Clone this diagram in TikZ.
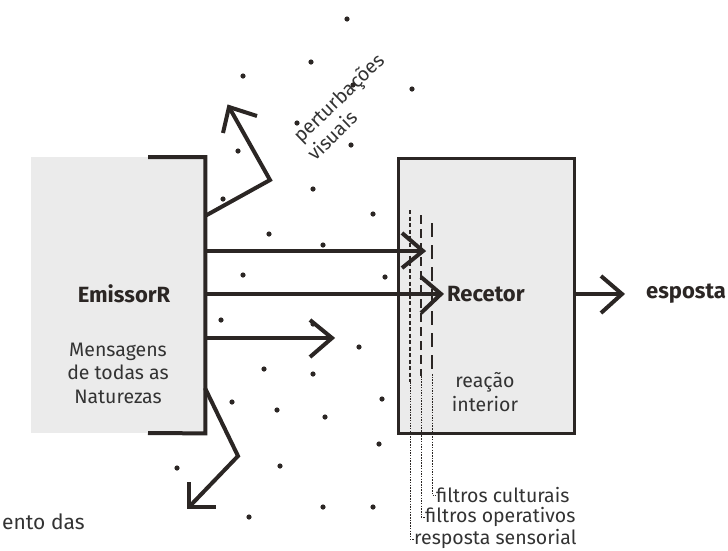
\documentclass[tikz,border=0pt]{standalone}
\usepackage{fontspec}
\setmainfont{Fira Sans}
\begin{document}
\begin{tikzpicture}[x=1pt,y=-1pt,
  every node/.style={inner sep=0pt, text=txt},
  heavy/.style={draw=ink, line width=4pt, line join=miter},
  frame/.style={draw=ink, line width=3.4pt, fill=panel},
  speck/.style={fill=ink},
  title/.style={font=\fontsize{22}{26}\selectfont\bfseries, text=ink},
  note/.style={font=\fontsize{19.5}{23.5}\selectfont, align=center},
  small/.style={font=\fontsize{19.5}{22}\selectfont, anchor=west},
  tilted/.style={font=\fontsize{19.5}{22}\selectfont, rotate=44, anchor=base west},
  filterA/.style={draw=ink, line width=2.2pt, dash pattern=on 4pt off 2.5pt},
  filterB/.style={draw=ink, line width=2.2pt, dash pattern=on 9pt off 5pt},
  filterC/.style={draw=ink, line width=2.2pt, dash pattern=on 14pt off 8pt},
  lead/.style={draw=ink, line width=0.8pt, dash pattern=on 1.5pt off 1.2pt}]
\definecolor{ink}{HTML}{2B2624}
\definecolor{txt}{HTML}{333333}
\definecolor{panel}{HTML}{EBEBEB}
\useasboundingbox (0,0) rectangle (728,550);

% sender block and its bracket
\node[fill=panel, minimum width=174pt, minimum height=276pt, anchor=north west] (em) at (31,157) {};
\draw[heavy] (148,157) -- (em.north east) -- (em.south east) -- (148,433);
\node[title] (emt) at (124,294) {EmissorR};
\node[note] (emn) at (118,373) {Mensagens\\de todas as\\Naturezas};

% receiver block
\node[frame, minimum width=176pt, minimum height=275pt, anchor=north west] (re) at (397,157) {};
\node[title, anchor=west] (ret) at (447,294) {Recetor};
\node[note] (ren) at (485,392) {reação\\interior};
\node[title, anchor=west] (out) at (646,294) {esposta};

% filter lines
\coordinate (fa0) at (410,210); \coordinate (fa1) at (410,382); \coordinate (fa2) at (410,539);
\coordinate (fb0) at (421,215); \coordinate (fb1) at (421,376); \coordinate (fb2) at (421,517);
\coordinate (fc0) at (432,223); \coordinate (fc1) at (432,374); \coordinate (fc2) at (432,495);
\draw[filterA] (fa0) -- (fa1);
\draw[filterB] (fb0) -- (fb1);
\draw[filterC] (fc0) -- (fc1);
\node[small] (lc) at (436,495) {filtros culturais};
\node[small] (lo) at (425,517) {filtros operativos};
\node[small] (ls) at (414,539) {resposta sensorial};
\draw[lead] (fa1) -- (fa2) -- (ls.west);
\draw[lead] (fb1) -- (fb2) -- (lo.west);
\draw[lead] (fc1) -- (fc2) -- (lc.west);

% messages
\coordinate (m1) at (423,251);
\coordinate (m2) at (441,294);
\coordinate (m3) at (332,338);
\draw[heavy] (em.east |- m1) -- (m1);
\draw[heavy] (402,233) -- (m1) -- (402,268);
\draw[heavy] (em.east |- m2) -- (m2);
\draw[heavy] (421,277) -- (m2) -- (421,313);
\draw[heavy] (em.east |- m3) -- (m3);
\draw[heavy] (310,320) -- (m3) -- (310,357);

% deflected messages
\coordinate (u0) at (205,216); \coordinate (u1) at (270,180); \coordinate (u2) at (229,107);
\draw[heavy] (u0) -- (u1) -- (u2);
\draw[heavy] (223,133) -- (u2) -- (257,116);
\coordinate (d0) at (205,388); \coordinate (d1) at (238,456); \coordinate (d2) at (189,507);
\draw[heavy] (d0) -- (d1) -- (d2);
\draw[heavy] (189,482) -- (d2) -- (216,507);

% response
\coordinate (r1) at (622,294);
\draw[heavy] (re.east |- r1) -- (r1);
\draw[heavy] (601,276) -- (r1) -- (601,313);

% noise
\node[tilted] (pv1) at (301,144) {perturbações};
\node[tilted] (pv2) at (315,162) {visuais};
\foreach \p in {(347,19),(311,62),(243,76),(353,85),(412,89),(297,123),(238,151),(351,145),
  (313,189),(223,199),(373,214),(269,234),(323,245),(243,275),(385,277),(221,320),(313,324),
  (359,347),(264,369),(313,374),(232,402),(277,410),(325,417),(382,399),(379,444),(280,466),
  (177,468),(323,507),(373,507),(249,517)}
  \fill[speck] \p circle (2.6);

\node[font=\fontsize{21}{24}\selectfont, anchor=west] (cut) at (2,522) {ento das};
\end{tikzpicture}
\end{document}
